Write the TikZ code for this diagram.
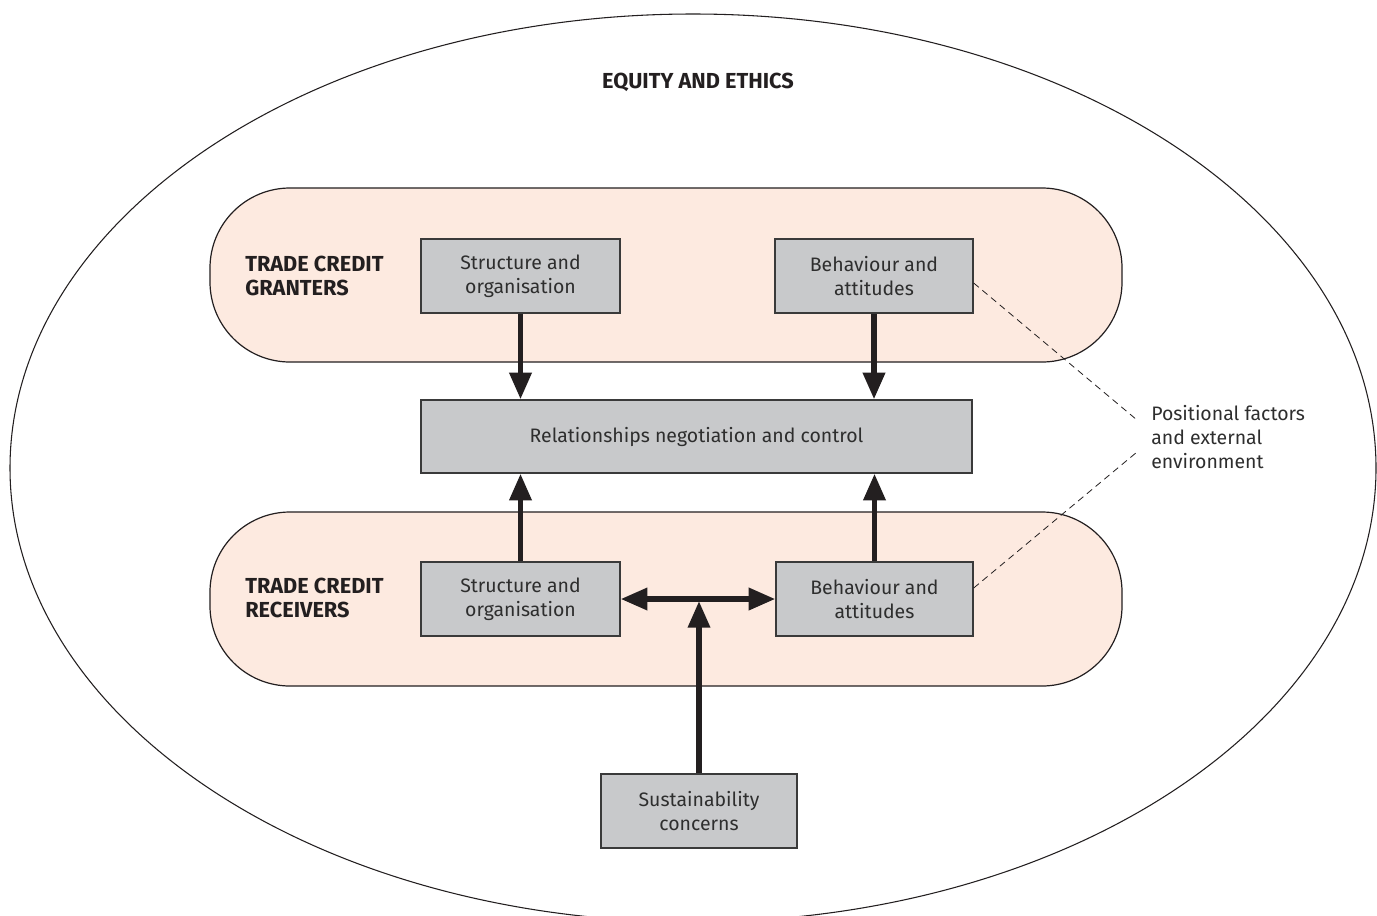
\documentclass[tikz,border=0pt]{standalone}
\usepackage{fontspec}
\setmainfont{Fira Sans}
\usetikzlibrary{arrows.meta,calc}
\definecolor{pillfill}{HTML}{FDEAE0}
\definecolor{boxfill}{HTML}{C8C9CB}
\definecolor{boxline}{HTML}{3A3A3A}
\definecolor{txt}{HTML}{2E2E2E}
\definecolor{darktxt}{HTML}{231F20}
\begin{document}
\begin{tikzpicture}[x=0.75pt,y=-0.75pt,
  pill/.style={draw=darktxt,line width=0.9pt,fill=pillfill,rounded corners=60pt},
  greybox/.style={draw=boxline,line width=1pt,fill=boxfill,text=txt,align=center,
    font=\fontsize{14.6}{18}\selectfont,inner sep=0pt},
  heading/.style={text=darktxt,font=\fontsize{16.3}{18}\selectfont\bfseries,align=left,inner sep=0pt},
  bigarrow/.style={draw=darktxt,line width=4.2pt,-{Triangle[length=20pt,width=16pt]}},
  dblarrow/.style={draw=darktxt,line width=4.2pt,{Triangle[length=20pt,width=16pt]}-{Triangle[length=20pt,width=16pt]}},
  leader/.style={draw=darktxt,line width=0.6pt,dash pattern=on 5pt off 3.5pt}]
\clip (0,0) rectangle (1377,915);
\fill[white] (0,0) rectangle (1377,915);
% outer ellipse
\draw[darktxt,line width=0.8pt] (693,468) ellipse [x radius=683, y radius=454];
\node[heading,anchor=center] (eq) at (698,82) {EQUITY AND ETHICS};
% pills
\draw[pill] (210,188) rectangle (1122,362);
\draw[pill] (210,512) rectangle (1122,686);
\node[heading,anchor=west] (gr) at (245,276) {TRADE CREDIT\\GRANTERS};
\node[heading,anchor=west] (rc) at (245,598) {TRADE CREDIT\\RECEIVERS};
% boxes
\node[greybox,minimum width=199*0.75pt,minimum height=74*0.75pt] (gs) at (520.5,276) {Structure and\\organisation};
\node[greybox,minimum width=198*0.75pt,minimum height=74*0.75pt] (gb) at (874,276) {Behaviour and\\attitudes};
\node[greybox,minimum width=551*0.75pt,minimum height=73*0.75pt] (rel) at (696.5,436.5) {Relationships negotiation and control};
\node[greybox,minimum width=199*0.75pt,minimum height=74*0.75pt] (rs) at (520.5,599) {Structure and\\organisation};
\node[greybox,minimum width=197*0.75pt,minimum height=74*0.75pt] (rb) at (874.5,599) {Behaviour and\\attitudes};
\node[greybox,minimum width=196*0.75pt,minimum height=74*0.75pt] (sus) at (699,811) {Sustainability\\concerns};
% label
\node[anchor=west,text=txt,align=left,font=\fontsize{14.6}{18}\selectfont,inner sep=0pt] (pf) at (1151,437) {Positional factors\\and external\\environment};
\coordinate (pfa) at (1137,420);
\coordinate (pfb) at (1137,452);
% arrows
\draw[bigarrow] (gs.south) -- (gs.south |- rel.north);
\draw[bigarrow] (gb.south) -- (gb.south |- rel.north);
\draw[bigarrow] (rs.north) -- (rs.north |- rel.south);
\draw[bigarrow] (rb.north) -- (rb.north |- rel.south);
\draw[dblarrow] (rs.east) -- (rb.west);
\draw[bigarrow] (sus.north) -- ($(sus.north |- rs.east)+(0,2)$);
% leaders
\draw[leader] ($(gb.east)+(0,7)$) -- (pfa);
\draw[leader] ($(rb.east)+(0,-11)$) -- (pfb);
\end{tikzpicture}
\end{document}
